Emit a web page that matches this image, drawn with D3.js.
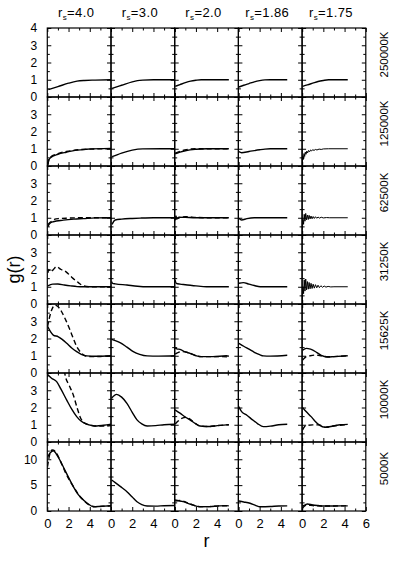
<!DOCTYPE html>
<html lang="en">
  <head>
    <meta charset="UTF-8" />
    <title>g(r) panels</title>
    <script src="https://d3js.org/d3.v7.min.js"></script>
    <style>
      body {
        margin: 0;
        background: #fff;
      }
      svg {
        display: block;
        font-family: "Liberation Sans", Arial, sans-serif;
      }
      .frame {
        fill: none;
        stroke: #000;
        stroke-width: 1.2px;
      }
      .tick line {
        stroke: #000;
        stroke-width: 1px;
      }
      .curve {
        fill: none;
        stroke: #000;
        stroke-width: 1.4px;
      }
      .noisy {
        stroke-width: 1px;
      }
      .dashed {
        stroke-dasharray: 5 3;
      }
    </style>
  </head>
  <body>
    <svg width="397" height="562"></svg>

    <script>
      // column / row labels
      const columns = ["4.0", "3.0", "2.0", "1.86", "1.75"];
      const temperatures = ["250000K", "125000K", "62500K", "31250K", "15625K", "10000K", "5000K"];
      const yMaxes = [4, 4, 4, 4, 4, 4, 40 / 3];

      // tick labels
      const xLabels = [0, 2, 4];
      const xLabelsLast = [0, 2, 4, 6];
      const yLabelsTop = [0, 1, 2, 3, 4];
      const yLabels = [0, 1, 2, 3];
      const yLabelsBottom = [0, 5, 10];

      // g(r) curves, one list per rs column, points are [r, g]
      const solid250000K = [
        [[0.1, 0.43], [1, 0.6], [2, 0.8], [2.8, 0.92], [3.5, 0.96], [4.5, 0.98], [6, 1.0]],
        [[0.1, 0.5], [1, 0.68], [2, 0.88], [2.5, 0.95], [3, 0.98], [4, 1.0], [6, 1.0]],
        [[0.05, 0.62], [0.5, 0.72], [1, 0.83], [1.5, 0.92], [2, 0.97], [2.5, 1.0], [5.1, 1.0]],
        [[0.05, 0.58], [0.5, 0.68], [1, 0.78], [1.5, 0.88], [2, 0.95], [2.5, 0.99], [3, 1.0], [4.6, 1.0]],
        [[0.05, 0.62], [0.5, 0.7], [1, 0.8], [1.5, 0.9], [2, 0.96], [2.5, 1.0], [4.3, 1.0]],
      ];
      const dashed250000K = [null, null, null, null, null];

      const solid125000K = [
        [[0.05, 0.06], [0.15, 0.35], [0.3, 0.48], [1, 0.68], [1.8, 0.8], [2.8, 0.92], [3.7, 0.97], [6, 1.02]],
        [[0.1, 0.54], [1, 0.75], [2, 0.92], [3, 0.99], [6, 1.0]],
        [[0.05, 0.7], [0.5, 0.8], [1.1, 0.9], [2, 0.97], [3, 1.0], [5.1, 1.0]],
        [[0.05, 0.83], [0.3, 0.77], [1, 0.84], [2, 0.94], [2.5, 0.98], [3, 1.0], [4.6, 1.0]],
        [[0.02, 0.2], [0.07, 0.6], [0.12, 0.38], [0.18, 0.72], [0.24, 0.55], [0.3, 0.8], [0.37, 0.68],
         [0.44, 0.86], [0.52, 0.76], [0.6, 0.9], [0.7, 0.82], [0.8, 0.93], [0.9, 0.87], [1.0, 0.95],
         [1.12, 0.9], [1.25, 0.96], [1.4, 0.93], [1.6, 0.98], [1.8, 0.96], [2.0, 0.99], [2.5, 1.0], [4.3, 1.0]],
      ];
      const dashed125000K = [
        [[0.05, 0.1], [0.15, 0.4], [0.3, 0.52], [1, 0.72], [2, 0.86], [3, 0.95], [4, 0.98], [6, 1.0]],
        null,
        [[0.05, 0.75], [0.5, 0.85], [1.1, 0.95], [2, 1.0], [5.1, 1.0]],
        null,
        null,
      ];

      const solid62500K = [
        [[0.05, 0.48], [0.25, 0.68], [0.56, 0.77], [1.5, 0.86], [2.5, 0.92], [3.4, 0.95], [4.5, 0.99], [6, 1.0]],
        [[0.1, 0.62], [0.4, 0.87], [1, 0.92], [2, 0.96], [2.75, 0.98], [4, 1.0], [6, 1.0]],
        [[0.03, 0.85], [0.12, 1.1], [0.2, 0.95], [0.4, 1.03], [1, 1.02], [2, 1.0], [5.1, 1.0]],
        [[0.05, 0.97], [0.3, 0.87], [0.8, 0.95], [1.5, 1.0], [4.6, 1.0]],
        [[0.02, 0.35], [0.08, 0.9], [0.14, 0.62], [0.2, 1.2], [0.27, 0.8], [0.34, 1.25], [0.42, 0.88],
         [0.5, 1.15], [0.58, 0.9], [0.66, 1.14], [0.75, 0.93], [0.84, 1.1], [0.94, 0.94], [1.04, 1.07],
         [1.15, 0.96], [1.26, 1.06], [1.38, 0.97], [1.5, 1.04], [1.65, 0.98], [1.8, 1.03], [2.0, 0.99],
         [2.3, 1.01], [2.6, 1.0], [4.3, 1.0]],
      ];
      const dashed62500K = [
        [[0.05, 0.6], [0.3, 0.75], [0.66, 0.9], [1.04, 0.95], [2, 0.98], [3, 1.0], [6, 1.0]],
        null,
        [[0.05, 0.9], [0.5, 1.02], [1, 1.06], [2, 1.02], [3, 1.0], [5.1, 1.0]],
        null,
        null,
      ];

      const solid31250K = [
        [[0.05, 1.05], [0.5, 1.15], [1, 1.16], [1.6, 1.1], [2.2, 1.05], [2.8, 1.01], [3.4, 1.0], [6, 1.0]],
        [[0.05, 1.3], [0.15, 1.2], [0.4, 1.17], [1.5, 1.1], [2.5, 1.03], [3.4, 1.0], [6, 1.0]],
        [[0.03, 1.4], [0.15, 1.2], [0.5, 1.15], [1, 1.12], [2, 1.05], [3, 1.0], [5.1, 1.0]],
        [[0.05, 1.2], [0.47, 1.24], [1, 1.15], [1.5, 1.07], [2.05, 1.0], [4.6, 1.0]],
        [[0.02, 0.25], [0.08, 1.0], [0.14, 0.6], [0.2, 1.4], [0.27, 0.75], [0.34, 1.45], [0.42, 0.82],
         [0.5, 1.3], [0.58, 0.86], [0.66, 1.25], [0.75, 0.88], [0.84, 1.2], [0.94, 0.9], [1.04, 1.15],
         [1.15, 0.92], [1.26, 1.12], [1.38, 0.94], [1.5, 1.09], [1.63, 0.95], [1.77, 1.06], [1.92, 0.97],
         [2.08, 1.04], [2.25, 0.98], [2.45, 1.02], [2.7, 0.99], [3, 1.0], [4.3, 1.0]],
      ];
      const dashed31250K = [
        [[0.05, 1.8], [0.15, 2.0], [0.25, 1.88], [0.5, 1.95], [0.85, 2.16], [1.3, 2.0], [1.8, 1.85],
         [2.3, 1.55], [2.9, 1.25], [3.4, 1.05], [4, 1.0], [6, 1.0]],
        null,
        null,
        null,
        null,
      ];

      const solid15625K = [
        [[0.05, 2.68], [0.3, 2.4], [0.56, 2.2], [1.04, 2.1], [1.4, 1.95], [1.83, 1.72], [2.3, 1.45],
         [2.77, 1.24], [3.2, 1.08], [3.7, 0.99], [4.5, 0.97], [6, 1.0]],
        [[0.05, 1.95], [0.4, 1.88], [0.85, 1.76], [1.5, 1.5], [2.1, 1.24], [2.7, 1.08], [3.4, 0.99], [4.5, 0.98], [6, 1.0]],
        [[0.03, 1.47], [0.2, 1.4], [0.5, 1.37], [1, 1.22], [1.44, 1.14], [2, 1.0], [2.38, 0.95], [3.6, 0.95], [4.87, 1.0], [5.1, 0.97]],
        [[0.05, 1.72], [0.5, 1.55], [1, 1.38], [1.5, 1.2], [2, 1.06], [2.35, 0.99], [3, 0.98], [4.6, 1.03]],
        [[0.05, 1.33], [0.4, 1.43], [0.8, 1.38], [1.36, 1.2], [1.8, 1.02], [2.38, 0.93], [3, 0.95], [4.3, 1.0]],
      ];
      const dashed15625K = [
        [[0.02, 2.68], [0.2, 3.2], [0.41, 3.65], [0.72, 3.94], [1.0, 3.85], [1.35, 3.55], [1.75, 3.05],
         [2.14, 2.49], [2.45, 2.0], [2.77, 1.53], [3.15, 1.2], [3.55, 1.0], [4.2, 0.95], [5, 0.96], [6, 0.98]],
        null,
        [[0.05, 1.1], [0.3, 1.18], [0.66, 1.24], [1.28, 1.18], [2, 1.0], [2.5, 0.95], [3.6, 0.95], [4.5, 0.95], [5.1, 0.92]],
        null,
        [[0.05, 0.75], [0.2, 0.85], [0.4, 0.95], [0.7, 0.99], [1.3, 1.04], [1.8, 1.0], [2.38, 0.94], [3, 0.95], [4.3, 1.0]],
      ];

      const solid10000K = [
        [[0.05, 3.9], [0.4, 3.7], [0.88, 3.5], [1.3, 3.05], [1.83, 2.43], [2.3, 1.9], [2.77, 1.47], [3.2, 1.2],
         [3.7, 1.04], [4.2, 0.96], [4.65, 0.93], [5.3, 0.97], [6, 1.03]],
        [[0.05, 2.53], [0.53, 2.76], [1, 2.6], [1.5, 2.24], [2, 1.72], [2.45, 1.28], [2.9, 1.05], [3.4, 0.93],
         [4.2, 0.95], [5, 1.0], [6, 1.03]],
        [[0.03, 1.86], [0.5, 1.67], [1, 1.45], [1.44, 1.28], [2, 1.05], [2.38, 0.93], [3.3, 0.9], [4, 0.95], [4.87, 0.99], [5.1, 1.0]],
        [[0.03, 2.05], [0.3, 1.76], [0.8, 1.55], [1.3, 1.3], [1.8, 1.07], [2.35, 0.89], [3, 0.92], [3.8, 1.0], [4.6, 1.03]],
        [[0.03, 2.01], [0.4, 1.75], [0.85, 1.47], [1.2, 1.22], [1.6, 0.99], [2.2, 0.85], [2.95, 0.93], [3.6, 1.0], [4.3, 1.02]],
      ];
      const dashed10000K = [
        [[1.5, 4.6], [1.67, 3.9], [2.05, 3.3], [2.45, 2.72], [2.8, 2.0], [3.08, 1.47], [3.5, 1.1], [4.0, 0.99],
         [4.5, 0.93], [5.2, 0.92], [6, 0.95]],
        null,
        [[0.05, 1.04], [0.3, 1.2], [0.66, 1.37], [1.13, 1.43], [1.5, 1.3], [2, 1.05], [2.4, 0.93], [3.3, 0.9], [4, 0.95], [5.1, 1.0]],
        null,
        [[0.05, 0.7], [0.3, 0.93], [1.0, 0.99], [1.6, 0.99], [2.2, 0.86], [2.95, 0.93], [4.3, 1.02]],
      ];

      const solid5000K = [
        [[0.05, 10.5], [0.3, 11.3], [0.56, 11.65], [1.0, 10.5], [1.5, 8.56], [2.0, 6.5], [2.45, 4.7], [2.9, 3.2],
         [3.4, 2.13], [3.9, 1.3], [4.33, 0.83], [5, 0.9], [6, 1.03]],
        [[0.05, 6.0], [0.4, 5.48], [0.9, 4.7], [1.5, 3.73], [2.0, 2.7], [2.45, 1.8], [2.9, 1.25], [3.4, 0.97],
         [4.2, 0.95], [5, 1.02], [6, 1.05]],
        [[0.03, 2.13], [0.8, 1.8], [1.5, 1.3], [2.38, 0.83], [3.3, 0.85], [4.2, 1.0], [4.87, 1.03], [5.1, 1.0]],
        [[0.03, 1.93], [0.5, 1.75], [1.1, 1.49], [1.6, 1.1], [2.05, 0.83], [3, 0.87], [3.8, 0.98], [4.6, 1.0]],
        [[0.03, 0.97], [0.3, 1.2], [0.5, 1.35], [1.0, 1.16], [1.5, 1.05], [2.0, 0.97], [3, 0.98], [4.3, 1.0]],
      ];
      const dashed5000K = [
        [[0.02, 8.56], [0.25, 11.1], [0.47, 11.8], [0.8, 11.4], [1.2, 9.8], [1.67, 7.6], [2.1, 5.9], [2.5, 4.6],
         [3.0, 3.0], [3.5, 1.9], [4, 1.1], [4.5, 0.85], [5.5, 0.95], [6, 1.0]],
        null,
        [[0.05, 1.9], [0.5, 2.05], [1, 1.75], [1.6, 1.25], [2.38, 0.85], [3.3, 0.85], [4.2, 1.0], [5.1, 1.02]],
        null,
        [[0.03, 0.5], [0.2, 0.9], [0.4, 1.16], [0.8, 1.1], [1.3, 1.0], [2.0, 0.97], [4.3, 1.0]],
      ];

      const solidRows = [solid250000K, solid125000K, solid62500K, solid31250K, solid15625K, solid10000K, solid5000K];
      const dashedRows = [dashed250000K, dashed125000K, dashed62500K, dashed31250K, dashed15625K, dashed10000K, dashed5000K];

      // layout
      const gridLeft = 47.3;
      const gridTop = 28;
      const colW = 63.7;
      const rowH = 69;
      const nCols = columns.length;
      const nRows = temperatures.length;

      const svg = d3.select("svg");

      const smoothLine = d3
        .line()
        .x((d) => d[0])
        .y((d) => d[1])
        .curve(d3.curveMonotoneX);
      // noisy simulation data is joined point to point
      const rawLine = d3
        .line()
        .x((d) => d[0])
        .y((d) => d[1]);

      function cleanAxis(g) {
        g.select(".domain").remove();
        g.attr("font-family", null).attr("font-size", null);
      }

      for (let r = 0; r < nRows; r++) {
        const yMax = yMaxes[r];
        const y = d3
          .scaleLinear()
          .domain([0, yMax])
          .range([gridTop + (r + 1) * rowH, gridTop + r * rowH]);
        // minor tick step: 0.5 for 0..4 rows, 5/3 for the bottom row
        const yStep = r === nRows - 1 ? 5 / 3 : 0.5;
        const yMajorStep = r === nRows - 1 ? 5 : 1;
        const yAll = d3.range(0, Math.round(yMax / yStep) + 1).map((i) => i * yStep);
        const yMajor = yAll.filter((v) => Math.abs(v / yMajorStep - Math.round(v / yMajorStep)) < 1e-6);
        const yMinor = yAll.filter((v) => !yMajor.includes(v));

        for (let c = 0; c < nCols; c++) {
          const x = d3
            .scaleLinear()
            .domain([0, 6])
            .range([gridLeft + c * colW, gridLeft + (c + 1) * colW]);
          const x0 = x(0),
            x1 = x(6),
            y0 = y(0),
            y1 = y(yMax);

          const panel = svg.append("g").attr("class", "panel");
          const clipId = `clip-${r}-${c}`;
          panel
            .append("clipPath")
            .attr("id", clipId)
            .append("rect")
            .attr("x", x0)
            .attr("y", y1)
            .attr("width", x1 - x0)
            .attr("height", y0 - y1);

          // inward ticks on all four sides
          const xMajor = [0, 2, 4, 6];
          const xMinor = [1, 3, 5];
          [
            [xMajor, 4],
            [xMinor, 2.5],
          ].forEach(([vals, size]) => {
            panel
              .append("g")
              .attr("transform", `translate(0,${y0})`)
              .call(d3.axisBottom(x).tickValues(vals).tickSize(-size).tickFormat(""))
              .call(cleanAxis);
            panel
              .append("g")
              .attr("transform", `translate(0,${y1})`)
              .call(d3.axisTop(x).tickValues(vals).tickSize(-size).tickFormat(""))
              .call(cleanAxis);
          });
          [
            [yMajor, 4],
            [yMinor, 2.5],
          ].forEach(([vals, size]) => {
            panel
              .append("g")
              .attr("transform", `translate(${x0},0)`)
              .call(d3.axisLeft(y).tickValues(vals).tickSize(-size).tickFormat(""))
              .call(cleanAxis);
            panel
              .append("g")
              .attr("transform", `translate(${x1},0)`)
              .call(d3.axisRight(y).tickValues(vals).tickSize(-size).tickFormat(""))
              .call(cleanAxis);
          });

          panel
            .append("rect")
            .attr("class", "frame")
            .attr("x", x0)
            .attr("y", y1)
            .attr("width", x1 - x0)
            .attr("height", y0 - y1);

          // curves
          const curves = panel.append("g").attr("clip-path", `url(#${clipId})`);
          const toPx = (pts) => pts.map((p) => [x(p[0]), y(p[1])]);
          const dashed = dashedRows[r][c];
          if (dashed) {
            curves.append("path").attr("class", "curve dashed").attr("d", smoothLine(toPx(dashed)));
          }
          const pts = solidRows[r][c];
          const noisy = pts.length > 15;
          curves
            .append("path")
            .attr("class", noisy ? "curve noisy" : "curve")
            .attr("d", (noisy ? rawLine : smoothLine)(toPx(pts)));

          // y tick labels on the first column
          if (c === 0) {
            const labels = r === 0 ? yLabelsTop : r === nRows - 1 ? yLabelsBottom : yLabels;
            panel
              .append("g")
              .attr("transform", `translate(${x0},0)`)
              .call(d3.axisLeft(y).tickValues(labels).tickSize(0).tickPadding(10).tickFormat(d3.format("d")))
              .call(cleanAxis)
              .selectAll("text")
              .attr("font-size", 12)
              .attr("fill", "#000");
          }

          // x tick labels on the bottom row
          if (r === nRows - 1) {
            panel
              .append("g")
              .attr("transform", `translate(0,${y0})`)
              .call(
                d3
                  .axisBottom(x)
                  .tickValues(c === nCols - 1 ? xLabelsLast : xLabels)
                  .tickSize(0)
                  .tickPadding(8)
                  .tickFormat(d3.format("d"))
              )
              .call(cleanAxis)
              .selectAll("text")
              .attr("font-size", 13)
              .attr("fill", "#000");
          }
        }

        // temperature label on the right
        svg
          .append("text")
          .attr("transform", `translate(388,${gridTop + r * rowH + rowH / 2 - 8}) rotate(-90)`)
          .attr("text-anchor", "middle")
          .attr("font-size", 11.5)
          .text(temperatures[r]);
      }

      // column titles r_s = ...
      columns.forEach((v, c) => {
        const t = svg
          .append("text")
          .attr("x", gridLeft + c * colW + colW / 2 - 3)
          .attr("y", 17)
          .attr("text-anchor", "middle")
          .attr("font-size", 13)
          .attr("letter-spacing", 0.4);
        t.append("tspan").text("r");
        t.append("tspan").attr("font-size", 8).attr("dy", 3).text("s");
        t.append("tspan").attr("dy", -3).text("=" + v);
      });

      // axis titles
      svg
        .append("text")
        .attr("transform", `translate(20,${gridTop + (nRows * rowH) / 2}) rotate(-90)`)
        .attr("text-anchor", "middle")
        .attr("font-size", 18)
        .text("g(r)");

      svg
        .append("text")
        .attr("x", gridLeft + (nCols * colW) / 2)
        .attr("y", 547)
        .attr("text-anchor", "middle")
        .attr("font-size", 18)
        .text("r");
    </script>
  </body>
</html>
